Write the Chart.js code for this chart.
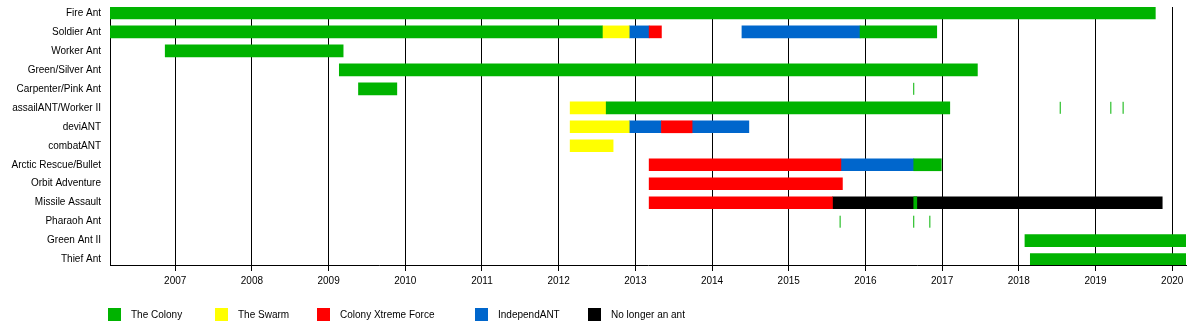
<!DOCTYPE html>
<html>
<head>
<meta charset="utf-8">
<script src="https://cdn.jsdelivr.net/npm/chart.js@4/dist/chart.umd.min.js"></script>
<style>
  body { margin: 0; background: #fff; }
</style>
</head>
<body>
<canvas id="timeline" width="1200" height="325"></canvas>
<script>
// rows of the timeline, top to bottom
var rows = ["Fire Ant", "Soldier Ant", "Worker Ant", "Green/Silver Ant", "Carpenter/Pink Ant",
    "assailANT/Worker II", "deviANT", "combatANT", "Arctic Rescue/Bullet", "Orbit Adventure",
    "Missile Assault", "Pharaoh Ant", "Green Ant II", "Thief Ant"]

var eras = ["The Colony", "The Swarm", "Colony Xtreme Force", "IndependANT", "No longer an ant"]
var eraColors = ["#00b300", "#ffff00", "#ff0000", "#0066cc", "#000000"]

// one entry per bar segment (start/end in decimal years)
var segRow   = [0, 1, 1, 1, 1, 1, 1, 2, 3, 4, 5, 5, 6, 6, 6, 6, 7, 8, 8, 8, 9, 10, 10, 10, 12, 13]
var segEra   = [0, 0, 1, 3, 2, 3, 0, 0, 0, 0, 1, 0, 1, 3, 2, 3, 1, 2, 3, 0, 2, 2, 4, 0, 0, 0]
var segStart = [2006.15, 2006.15, 2012.57, 2012.92, 2013.18, 2014.39, 2015.93, 2006.87, 2009.14, 2009.39,
    2012.15, 2012.62, 2012.15, 2012.92, 2013.34, 2013.74, 2012.15, 2013.18, 2015.68, 2016.63,
    2013.18, 2013.18, 2015.57, 2016.63, 2018.08, 2018.15]
var segEnd   = [2019.78, 2012.57, 2012.92, 2013.18, 2013.34, 2015.93, 2016.93, 2009.19, 2017.46, 2009.89,
    2012.62, 2017.10, 2012.92, 2013.34, 2013.74, 2014.48, 2012.71, 2015.68, 2016.63, 2016.99,
    2015.70, 2015.57, 2019.87, 2016.67, 2020.18, 2020.18]

// single-date appearances (thin marks)
var markRow  = [4, 5, 5, 5, 11, 11, 11]
var markDate = [2016.63, 2018.54, 2019.20, 2019.36, 2015.67, 2016.63, 2016.84]

var years = [2007, 2008, 2009, 2010, 2011, 2012, 2013, 2014, 2015, 2016, 2017, 2018, 2019, 2020]

Chart.defaults.font.family = "'Liberation Sans', Arial, sans-serif"
Chart.defaults.font.size = 10
Chart.defaults.color = "#000"

var datasets = eras.map(function(name, e) {
    var pts = []
    segRow.forEach(function(r, i) {
        if (segEra[i] == e) pts.push({ x: [segStart[i], segEnd[i]], y: r })
    })
    return {
        type: "bar",
        label: name,
        data: pts,
        backgroundColor: eraColors[e],
        borderWidth: 0,
        barThickness: 12,
        grouped: false
    }
})

datasets.push({
    type: "scatter",
    label: "marks",
    data: markRow.map(function(r, i) { return { x: markDate[i], y: r } }),
    pointStyle: "line",
    rotation: 90,
    radius: 6,
    hoverRadius: 6,
    borderWidth: 1,
    borderColor: "#00b300",
    backgroundColor: "#00b300"
})

// legend drawn under the axis like the original timeline
var legendPlugin = {
    id: "eraLegend",
    afterDraw: function(chart) {
        var ctx = chart.ctx
        var xs = [108, 215, 317, 475, 588]
        ctx.save()
        ctx.font = "10px 'Liberation Sans', Arial, sans-serif"
        ctx.textBaseline = "middle"
        eras.forEach(function(name, i) {
            ctx.fillStyle = eraColors[i]
            ctx.fillRect(xs[i], 308, 13, 13)
            ctx.fillStyle = "#000"
            ctx.fillText(name, xs[i] + 23, 315)
        })
        ctx.restore()
    }
}

var canvasElement = document.getElementById("timeline")
var timeline = new Chart(canvasElement, {
    data: { datasets: datasets },
    options: {
        indexAxis: "y",
        responsive: false,
        animation: false,
        layout: { padding: { top: 3, right: 14, left: 0, bottom: 0 } },
        plugins: {
            legend: { display: false },
            tooltip: { enabled: false }
        },
        scales: {
            x: {
                type: "linear",
                position: "bottom",
                min: 2006.15,
                max: 2020.18,
                afterBuildTicks: function(scale) {
                    scale.ticks = years.map(function(y) { return { value: y } })
                },
                afterFit: function(scale) { scale.height = 60 },
                ticks: {
                    padding: 4,
                    autoSkip: false,
                    maxRotation: 0,
                    callback: function(v) { return String(v) }
                },
                grid: { color: "#000", lineWidth: 1, tickLength: 6, drawOnChartArea: true },
                border: { display: true, color: "#000", width: 1 }
            },
            y: {
                type: "linear",
                reverse: true,
                offset: false,
                min: -0.31,
                max: 13.28,
                afterBuildTicks: function(scale) {
                    scale.ticks = rows.map(function(r, i) { return { value: i } })
                },
                afterFit: function(scale) {
                    scale.width = 110
                    scale.paddingTop = 0
                    scale.paddingBottom = 0
                },
                ticks: {
                    padding: 9,
                    autoSkip: false,
                    callback: function(v) { return rows[v] }
                },
                grid: { display: false, drawTicks: false },
                border: { display: true, color: "#000", width: 1 }
            }
        }
    },
    plugins: [legendPlugin]
})
</script>
</body>
</html>
